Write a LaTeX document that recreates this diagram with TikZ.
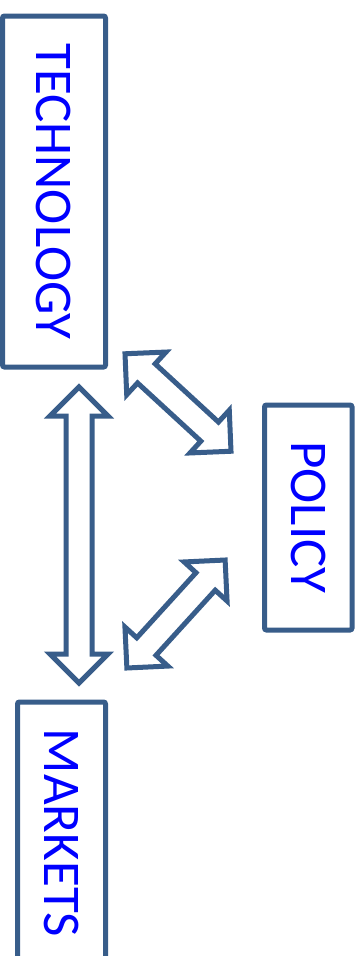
\documentclass[tikz,border=0pt]{standalone}
\usepackage{fontspec}
\setmainfont{Carlito}
\usepackage{xcolor}
\usetikzlibrary{positioning}
\definecolor{frameblue}{RGB}{56,93,138}
\definecolor{labelblue}{RGB}{0,0,255}

\begin{document}
\begin{tikzpicture}[
    x=1pt, y=-1pt,
    every node/.style={font=\fontsize{53}{60}\selectfont},
    topic/.style={
        rectangle, rounded corners=2pt, draw=frameblue, line width=5pt,
        fill=white, text=labelblue, rotate=-90, inner sep=0pt
    },
    pics/dblarrow/.style={code={
        \draw[draw=frameblue, line width=5pt, fill=white, line join=miter]
            ({-#1/2},0) -- ({-#1/2+29},-29) -- ({-#1/2+29},-13) -- ({#1/2-29},-13)
            -- ({#1/2-29},-29) -- ({#1/2},0) -- ({#1/2-29},29) -- ({#1/2-29},13)
            -- ({-#1/2+29},13) -- ({-#1/2+29},29) -- cycle;
    }}
]
\useasboundingbox[fill=white] (0,0) rectangle (361,956);

\node[topic, minimum width=351pt, minimum height=103pt] (tech) at (54,191.5) {TECHNOLOGY};
\node[topic, minimum width=225pt, minimum height=87.5pt] (policy) at (308.25,517.5) {POLICY};
\node[topic, minimum width=262pt, minimum height=88pt] (markets) at (61.5,833) {MARKETS};

\pic[rotate=90] (tech-markets) at (79,535) {dblarrow=296};
\pic[rotate=-42.6] (tech-policy) at (178,402.5) {dblarrow=144};
\pic[rotate=47.7] (markets-policy) at (176,614) {dblarrow=146};

\end{tikzpicture}
\end{document}
